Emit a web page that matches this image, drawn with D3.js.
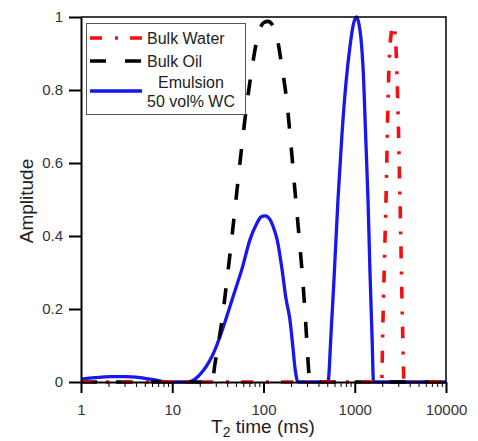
<!DOCTYPE html>
<html>
<head>
<meta charset="utf-8">
<script src="https://cdn.jsdelivr.net/npm/d3@7"></script>
<style>
  body { margin: 0; background: #fff; }
  text { font-family: "Liberation Sans", Arial, sans-serif; }
</style>
</head>
<body>
<div id="chart"></div>
<script>
// T2 times (ms) and amplitudes
var waterT = [1, 1974, 2025, 2200, 2373, 2496, 2659, 2797, 2883, 3133, 3353, 3465, 10000];
var waterA = [0, 0, 0.134, 0.5, 0.865, 0.95, 0.978, 0.94, 0.865, 0.5, 0.134, 0, 0];

var oilT = [1, 27.3, 29.4, 35.1, 39.8, 45.2, 51.2, 58.1, 65.9, 74.8, 87.0, 101, 112, 134, 160, 181, 200, 221, 245, 271, 292, 307, 323, 10000];
var oilA = [0, 0, 0.05, 0.17, 0.28, 0.4, 0.525, 0.65, 0.764, 0.86, 0.95, 0.985, 0.988, 0.964, 0.86, 0.764, 0.65, 0.525, 0.4, 0.27, 0.15, 0.06, 0, 0];

var emulT = [1, 1.42, 2.08, 3.03, 4.43, 6.0, 7.7, 9.4,
             14.9, 18.2, 21.7, 25.3, 29.4, 33.4, 37.9, 42.9, 48.7, 58.1, 71.1, 82.8, 93.9, 104, 118, 130, 141, 160, 176, 195, 211, 221, 239,
             509, 549, 592, 655, 725, 802, 887, 957, 1045, 1113, 1171, 1231, 1328, 1397, 1469, 1545, 1606, 10000];
var emulA = [0.008, 0.012, 0.015, 0.015, 0.012, 0.007, 0.002, 0,
             0, 0.01, 0.03, 0.055, 0.088, 0.125, 0.165, 0.207, 0.25, 0.31, 0.39, 0.43, 0.452, 0.455, 0.445, 0.42, 0.39, 0.307, 0.23, 0.17, 0.09, 0.04, 0,
             0, 0.13, 0.28, 0.5, 0.68, 0.82, 0.92, 0.975, 1.0, 0.98, 0.94, 0.865, 0.65, 0.5, 0.3, 0.13, 0, 0];

var xTicks = [1, 10, 100, 1000, 10000];
var yTicks = [0, 0.2, 0.4, 0.6, 0.8, 1];
var legendNames = ["Bulk Water", "Bulk Oil", ["Emulsion", "50 vol% WC"]];

var width = 478, height = 441;
var pLeft = 81, pRight = 446, pTop = 17, pBottom = 382;

var waterDash = '12,13,3,12';
var oilDash = '16,19';

var svg = d3.select('#chart').append('svg')
    .attr('width', width)
    .attr('height', height);

var x = d3.scaleLog().domain([1, 10000]).range([pLeft, pRight]);
var y = d3.scaleLinear().domain([0, 1]).range([pBottom, pTop]);

function toPts(ts, as) {
  return ts.map(function(t, i) { return [t, as[i]]; });
}

var line = d3.line()
    .x(function(d) { return x(d[0]); })
    .y(function(d) { return y(d[1]); })
    .curve(d3.curveMonotoneX);

// series
svg.append('path')
    .attr('d', line(toPts(emulT, emulA)))
    .attr('fill', 'none')
    .attr('stroke', '#1717ee')
    .attr('stroke-width', 3.3);

svg.append('path')
    .attr('d', line(toPts(oilT, oilA)))
    .attr('fill', 'none')
    .attr('stroke', '#000')
    .attr('stroke-width', 3.6)
    .attr('stroke-dasharray', oilDash);

svg.append('path')
    .attr('d', line(toPts(waterT, waterA)))
    .attr('fill', 'none')
    .attr('stroke', '#f01010')
    .attr('stroke-width', 3.6)
    .attr('stroke-dasharray', waterDash);

// frame (top + right)
svg.append('path')
    .attr('d', 'M' + pLeft + ',' + pTop + 'H' + pRight + 'V' + pBottom)
    .attr('fill', 'none')
    .attr('stroke', '#000')
    .attr('stroke-width', 1.5);

// y axis
var yAxis = svg.append('g')
    .attr('transform', 'translate(' + pLeft + ',0)')
    .call(d3.axisLeft(y)
        .tickValues(yTicks)
        .tickSize(12)
        .tickSizeOuter(0)
        .tickPadding(6)
        .tickFormat(function(d) { return d === 0 || d === 1 ? String(d) : d3.format('.1f')(d); }));

// x axis: minor ticks then majors
var minor = [];
xTicks.slice(0, -1).forEach(function(m) {
  for (var k = 2; k < 10; k++) minor.push(m * k);
});
svg.append('g')
    .attr('transform', 'translate(0,' + pBottom + ')')
    .call(d3.axisBottom(x).tickValues(minor).tickSize(5).tickFormat(''))
    .call(function(g) { g.select('.domain').remove(); });

var xAxis = svg.append('g')
    .attr('transform', 'translate(0,' + pBottom + ')')
    .call(d3.axisBottom(x)
        .tickValues(xTicks)
        .tickSize(11)
        .tickSizeOuter(0)
        .tickPadding(11)
        .tickFormat(d3.format('d')));

[yAxis, xAxis].forEach(function(g) {
  g.select('.domain').attr('stroke-width', 2);
  g.selectAll('.tick line').attr('stroke-width', 2);
  g.selectAll('.tick text')
      .attr('font-size', 15)
      .attr('fill', '#333')
      .style('font-family', '"Liberation Sans", Arial, sans-serif');
});
svg.selectAll('.tick line').attr('stroke', '#000');

// axis titles
svg.append('text')
    .attr('transform', 'translate(33,201) rotate(-90)')
    .attr('text-anchor', 'middle')
    .attr('font-size', 19)
    .attr('fill', '#222')
    .text('Amplitude');

var xt = svg.append('text')
    .attr('x', 263)
    .attr('y', 433)
    .attr('text-anchor', 'middle')
    .attr('font-size', 19)
    .attr('fill', '#222');
xt.append('tspan').text('T');
xt.append('tspan').attr('font-size', 14).attr('dy', 4).text('2');
xt.append('tspan').attr('dy', -4).text(' time (ms)');

// legend
var lg = svg.append('g');
lg.append('rect')
    .attr('x', 86.5).attr('y', 23.5)
    .attr('width', 159).attr('height', 91)
    .attr('fill', '#fff')
    .attr('stroke', '#555')
    .attr('stroke-width', 1);

var legStyles = [
  { c: '#f01010', w: 3.6, dash: waterDash, y: 38 },
  { c: '#000', w: 3.6, dash: oilDash, y: 61 },
  { c: '#1717ee', w: 3.3, dash: null, y: 91 }
];
legStyles.forEach(function(s) {
  lg.append('line')
      .attr('x1', 90).attr('x2', 142)
      .attr('y1', s.y).attr('y2', s.y)
      .attr('stroke', s.c)
      .attr('stroke-width', s.w)
      .attr('stroke-dasharray', s.dash);
});
lg.append('text').attr('x', 147).attr('y', 44).attr('font-size', 16).attr('fill', '#222').text(legendNames[0]);
lg.append('text').attr('x', 147).attr('y', 67).attr('font-size', 16).attr('fill', '#222').text(legendNames[1]);
lg.append('text').attr('x', 191).attr('y', 88).attr('text-anchor', 'middle').attr('font-size', 16).attr('fill', '#222').text(legendNames[2][0]);
lg.append('text').attr('x', 147).attr('y', 107).attr('font-size', 16).attr('fill', '#222').text(legendNames[2][1]);
</script>
</body>
</html>
